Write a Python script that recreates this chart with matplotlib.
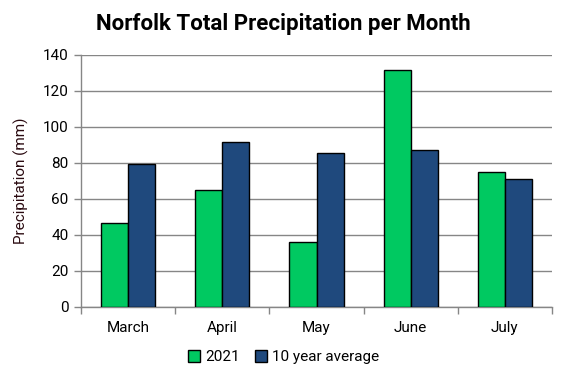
import matplotlib
matplotlib.use("Agg")
import matplotlib.pyplot as plt
import numpy as np

months = ["March", "April", "May", "June", "July"]
series_names = ["2021", "10 year average"]
precip_2021 = [46.5, 64.8, 35.9, 131.5, 74.8]
precip_avg = [79.3, 91.5, 85.4, 87.0, 70.9]
colors = ["#00C961", "#1F497D"]
yticks = [0, 20, 40, 60, 80, 100, 120, 140]

plt.rcParams['font.family'] = ['Roboto', 'DejaVu Sans']

fig = plt.figure(figsize=(5.67, 3.78), dpi=100)
ax = fig.add_axes([81/567, 1-307/378, 471/567, 252/378])

x = np.arange(len(months))
w = 0.287
ax.bar(x - w/2, precip_2021, w, color=colors[0], edgecolor="black", linewidth=1.0, label=series_names[0], zorder=3)
ax.bar(x + w/2, precip_avg, w, color=colors[1], edgecolor="black", linewidth=1.0, label=series_names[1], zorder=3)

ax.set_xlim(-0.5, len(months) - 0.5)
ax.set_ylim(0, 140)
ax.set_yticks(yticks)
ax.set_yticklabels([str(v) for v in yticks], fontsize=11)
ax.yaxis.grid(True, color="#868686", linewidth=1.0, zorder=0)
ax.set_axisbelow(True)

ax.set_xticks(np.arange(len(months) + 1) - 0.5)
ax.set_xticklabels([])
ax.set_xticks(x, minor=True)
ax.set_xticklabels(months, minor=True, fontsize=11)
ax.tick_params(axis="x", which="minor", length=0, pad=10)
ax.tick_params(axis="x", which="major", length=5, color="#868686", width=1)
ax.tick_params(axis="y", length=5, color="#868686", width=1, pad=4)

for s in ["top", "right"]:
    ax.spines[s].set_visible(False)
for s in ["left", "bottom"]:
    ax.spines[s].set_color("#868686")
    ax.spines[s].set_linewidth(1.0)

ax.set_ylabel("Precipitation (mm)", fontsize=11, color="#2a0a10", labelpad=10)

fig.text(0.5, 1 - 24/378, "Norfolk Total Precipitation per Month", ha="center", va="center",
         fontsize=16, fontweight="bold")

fig.legend(loc="center", bbox_to_anchor=(0.5, 1 - 357/378), ncol=2, frameon=False,
           fontsize=11, handlelength=0.8, handleheight=0.8, handletextpad=0.3, columnspacing=1.0)

fig.savefig("out.png", dpi=100)
